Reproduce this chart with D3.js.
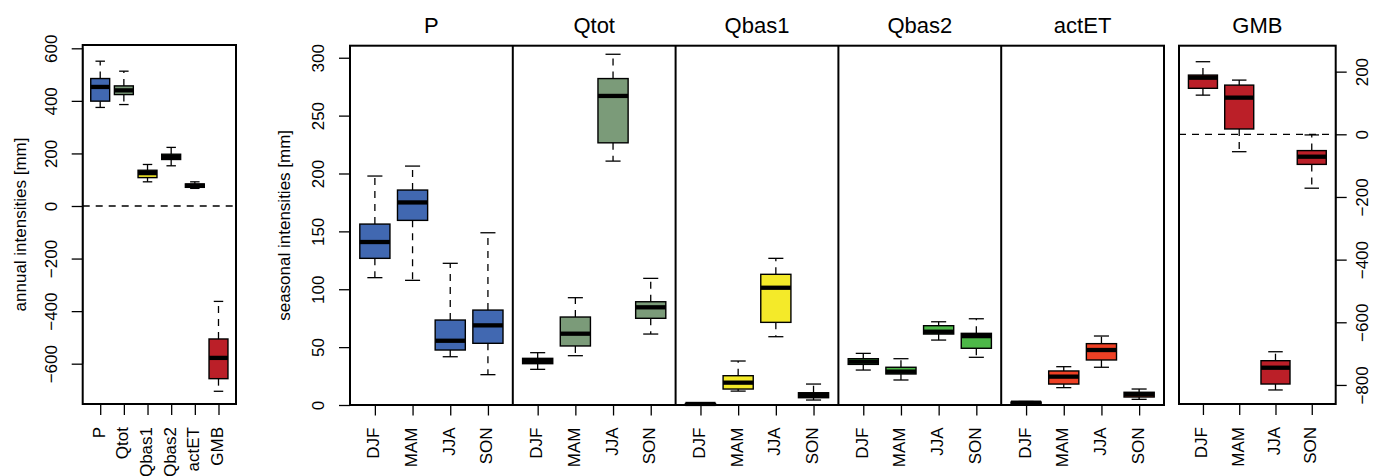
<!DOCTYPE html>
<html>
<head>
<meta charset="utf-8">
<script src="https://cdn.jsdelivr.net/npm/d3@7"></script>
<style>
  body { margin: 0; background: #fff; }
  svg { display: block; font-family: "Liberation Sans", Arial, Helvetica, sans-serif; }
</style>
</head>
<body>
<svg id="chart"></svg>
<script>
// --- data: box statistics [lower whisker, Q1, median, Q3, upper whisker]
const variables = ["P", "Qtot", "Qbas1", "Qbas2", "actET", "GMB"];
const seasons = ["DJF", "MAM", "JJA", "SON"];

const annualBoxes = [
    [375, 399, 453, 485, 551],
    [386, 424, 440, 457, 513],
    [92, 108, 125, 136, 158],
    [153, 177, 187, 197, 223],
    [67, 71, 77, 84, 92],
    [-705, -657, -578, -506, -363]
];

const seasonalP = [[110, 126.7, 140.8, 156.3, 197.8], [107.7, 159.5, 175, 185.7, 206.4], [41.7, 47.5, 55.5, 73.4, 122.4], [26.2, 53.3, 68.8, 82, 148.8]];
const seasonalQtot = [[30.8, 35.7, 38, 40.3, 45.2], [42.6, 51, 61.6, 76, 92.7], [210.7, 226.5, 267, 282, 303], [61.3, 74.9, 84.4, 89.2, 109.4]];
const seasonalQbas1 = [[0.3, 0.6, 0.9, 1.2, 1.5], [12, 13.8, 19.3, 25.3, 38], [59, 71.4, 101.3, 112.9, 126.7], [4.3, 6.3, 8.6, 10.6, 18.1]];
const seasonalQbas2 = [[30.2, 35.1, 37.4, 40, 44.6], [21.6, 26.8, 28.8, 32.6, 40], [56.1, 61.3, 63.3, 68.5, 71.9], [41.2, 49, 59.5, 61.9, 74.5]];
const seasonalActET = [[1, 1.5, 2, 2.5, 3], [15, 18.1, 24.5, 29.4, 33.1], [32.6, 38.9, 47.5, 53, 59.6], [4.9, 6.9, 9.2, 11, 13.8]];
const seasonalGMB = [[125, 146.8, 180.6, 189, 231.7], [-55.5, 17, 117, 157, 173], [-816, -797, -745, -722.6, -694], [-172, -96, -71.5, -52, -2]];

const annualTicks = [-600, -400, -200, 0, 200, 400, 600];
const seasonalTicks = [0, 50, 100, 150, 200, 250, 300];
const gmbTicks = [-800, -600, -400, -200, 0, 200];

const palette = ["#4168b1", "#7b9b79", "#f4ea29", "#4db848", "#ee4024", "#bb1f28"];

// --- layout
const W = 1378, H = 476;
const svg = d3.select("#chart").attr("width", W).attr("height", H);
svg.append("rect").attr("width", W).attr("height", H).attr("fill", "#fff");

const tickFont = 17;

function boxes(g, data, x, y, fill, boxW) {
    const b = g.selectAll("g.box").data(data).join("g").attr("class", "box")
        .attr("transform", (d, i) => `translate(${x(i + 1)},0)`);
    // whiskers (dashed)
    b.append("line").attr("y1", d => y(d[3])).attr("y2", d => y(d[4]))
        .attr("stroke", "#000").attr("stroke-width", 1.3).attr("stroke-dasharray", "7,6");
    b.append("line").attr("y1", d => y(d[1])).attr("y2", d => y(d[0]))
        .attr("stroke", "#000").attr("stroke-width", 1.3).attr("stroke-dasharray", "7,6");
    // caps
    [0, 4].forEach(k => {
        b.append("line").attr("x1", -boxW / 4).attr("x2", boxW / 4)
            .attr("y1", d => y(d[k])).attr("y2", d => y(d[k]))
            .attr("stroke", "#000").attr("stroke-width", 1.3);
    });
    b.append("rect").attr("x", -boxW / 2).attr("width", boxW)
        .attr("y", d => y(d[3])).attr("height", d => Math.max(0.5, y(d[1]) - y(d[3])))
        .attr("fill", fill).attr("stroke", "#000").attr("stroke-width", 1.4);
    b.append("line").attr("x1", -boxW / 2).attr("x2", boxW / 2)
        .attr("y1", d => y(d[2])).attr("y2", d => y(d[2]))
        .attr("stroke", "#000").attr("stroke-width", 4.3);
}

function xAxis(g, x, labels, bottom) {
    const ax = g.append("g").attr("transform", `translate(0,${bottom})`)
        .call(d3.axisBottom(x).tickValues(d3.range(1, labels.length + 1))
            .tickFormat(i => labels[i - 1]).tickSize(11).tickSizeOuter(0));
    ax.select(".domain").remove();
    ax.selectAll(".tick line").attr("stroke-width", 1.3);
    ax.selectAll(".tick text")
        .attr("y", null).attr("dy", null)
        .attr("text-anchor", "end")
        .attr("transform", "translate(4,23) rotate(-90)")
        .attr("font-size", tickFont).attr("font-family", null).attr("fill", "#000");
}

function yAxis(g, y, ticks, xPos, right, fmt) {
    const gen = (right ? d3.axisRight(y) : d3.axisLeft(y)).tickValues(ticks)
        .tickSize(11).tickSizeOuter(0).tickFormat(fmt);
    const ax = g.append("g").attr("transform", `translate(${xPos},0)`).call(gen);
    ax.select(".domain").remove();
    ax.append("line").attr("y1", y(ticks[0])).attr("y2", y(ticks[ticks.length - 1]))
        .attr("stroke", "#000").attr("stroke-width", 1.3);
    ax.selectAll(".tick line").attr("stroke-width", 1.3);
    ax.selectAll(".tick text")
        .attr("x", null).attr("dy", null)
        .attr("text-anchor", "middle")
        .attr("transform", right ? "translate(32.5,0) rotate(-90)" : "translate(-26,0) rotate(-90)")
        .attr("font-size", tickFont).attr("font-family", null).attr("fill", "#000");
}

function frame(g, x0, x1, y0, y1) {
    g.append("rect").attr("x", x0).attr("y", y0).attr("width", x1 - x0).attr("height", y1 - y0)
        .attr("fill", "none").attr("stroke", "#000").attr("stroke-width", 2);
}

const minusFmt = d3.format("d");

// --- annual panel
const annual = svg.append("g");
const aLeft = 82.7, aRight = 236, aTop = 45, aBottom = 404;
const xA = d3.scaleLinear().domain([0.26, 6.74]).range([aLeft, aRight]);
const yA = d3.scaleLinear().domain([-753.4, 612.6]).range([aBottom, aTop]);
annual.append("line").attr("x1", aLeft).attr("x2", aRight).attr("y1", yA(0)).attr("y2", yA(0))
    .attr("stroke", "#000").attr("stroke-width", 1.3).attr("stroke-dasharray", "7,6");
annualBoxes.forEach((d, i) => {
    boxes(annual.append("g"), [d].map(v => v), v => xA(i + 1), yA, palette[i], 0.8 * (xA(2) - xA(1)));
});
frame(annual, aLeft, aRight, aTop, aBottom);
yAxis(annual, yA, annualTicks, aLeft, false, minusFmt);
xAxis(annual, xA, variables, aBottom);
annual.append("text").attr("transform", `translate(26,${(aTop + aBottom) / 2}) rotate(-90)`)
    .attr("text-anchor", "middle").attr("font-size", tickFont).text("annual intensities [mm]");

// --- seasonal panels
const sLeft = 350, sPanelW = 162.8, sTop = 45.7, sBottom = 405;
const ySeason = d3.scaleLinear().domain([0, 310.4]).range([sBottom, sTop]);
const seasonalSets = [seasonalP, seasonalQtot, seasonalQbas1, seasonalQbas2, seasonalActET];

seasonalSets.forEach((data, k) => {
    const g = svg.append("g");
    const x0 = sLeft + k * sPanelW, x1 = x0 + sPanelW;
    const x = d3.scaleLinear().domain([0.34, 4.66]).range([x0, x1]);
    boxes(g, data, x, ySeason, palette[k], 0.8 * (x(2) - x(1)));
    g.append("line").attr("x1", x0).attr("x2", x0).attr("y1", sTop).attr("y2", sBottom)
        .attr("stroke", "#000").attr("stroke-width", 2);
    xAxis(g, x, seasons, sBottom - 0.5);
    g.append("text").attr("x", (x0 + x1) / 2).attr("y", 33).attr("text-anchor", "middle")
        .attr("font-size", 22).text(variables[k]);
});
frame(svg, sLeft, sLeft + 5 * sPanelW, sTop, sBottom);
yAxis(svg.append("g"), ySeason, seasonalTicks, sLeft, false, minusFmt);
svg.append("text").attr("transform", `translate(289.5,${(sTop + sBottom) / 2}) rotate(-90)`)
    .attr("text-anchor", "middle").attr("font-size", tickFont).text("seasonal intensities [mm]");

// --- GMB panel
const gLeft = 1179, gRight = 1335.7, gTop = 45.7, gBottom = 404;
const gmb = svg.append("g");
const xG = d3.scaleLinear().domain([0.34, 4.66]).range([gLeft, gRight]);
const yG = d3.scaleLinear().domain([-860.8, 282.8]).range([gBottom, gTop]);
gmb.append("line").attr("x1", gLeft).attr("x2", gRight).attr("y1", yG(0)).attr("y2", yG(0))
    .attr("stroke", "#000").attr("stroke-width", 1.3).attr("stroke-dasharray", "7,6");
boxes(gmb, seasonalGMB, xG, yG, palette[5], 0.8 * (xG(2) - xG(1)));
frame(gmb, gLeft, gRight, gTop, gBottom);
yAxis(gmb, yG, gmbTicks, gRight, true, minusFmt);
xAxis(gmb, xG, seasons, gBottom);
gmb.append("text").attr("x", (gLeft + gRight) / 2).attr("y", 33).attr("text-anchor", "middle")
    .attr("font-size", 22).text("GMB");
</script>
</body>
</html>
